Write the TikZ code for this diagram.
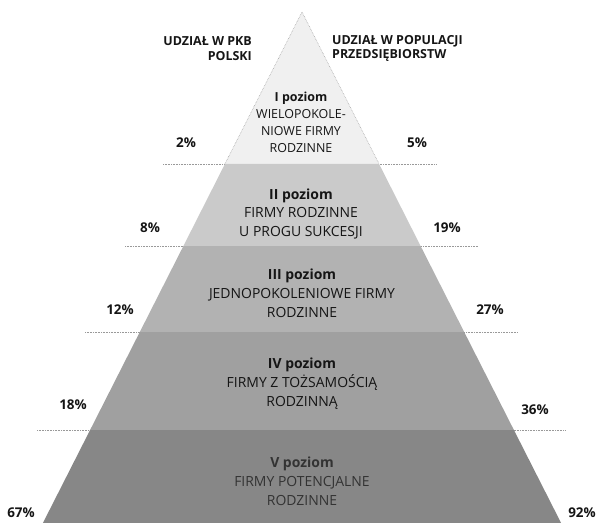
\documentclass[tikz,border=0pt]{standalone}
\usepackage{fontspec}
\setmainfont{Open Sans}
\definecolor{lvA}{HTML}{F0F0F0}
\definecolor{lvB}{HTML}{CACACA}
\definecolor{lvC}{HTML}{B2B2B2}
\definecolor{lvD}{HTML}{A0A0A0}
\definecolor{lvE}{HTML}{878787}
\definecolor{txt}{HTML}{151515}
\begin{document}
\begin{tikzpicture}[x=1bp,y=-1bp,
  head/.style={font=\bfseries\fontsize{12.5}{15}\selectfont, text=txt, inner sep=0pt},
  pct/.style={font=\bfseries\fontsize{13.5}{15}\selectfont, text=txt, inner sep=0pt},
  lvl/.style={font=\fontsize{14}{19}\selectfont, text=txt, inner sep=0pt, align=center},
  lvlA/.style={font=\fontsize{12.5}{17}\selectfont, text=txt, inner sep=0pt, align=center},
  sep/.style={draw=gray!80, densely dotted, line width=0.6pt}]
\useasboundingbox (0,0) rectangle (599,523);
% separator lines
\draw[sep] (163,164) -- (437,164);
\draw[sep] (125,246) -- (478,246);
\draw[sep] (85,332) -- (518,332);
\draw[sep] (37,430) -- (566,430);
% pyramid levels (apex (302,12), slope 0.507)
\fill[lvA] (302,12) -- (379.1,164) -- (224.9,164) -- cycle;
\draw[gray!70, densely dotted, line width=0.6pt] (224.9,164) -- (302,12) -- (379.1,164);
\fill[lvB] (224.9,164) -- (379.1,164) -- (420.6,246) -- (183.4,246) -- cycle;
\fill[lvC] (183.4,246) -- (420.6,246) -- (464.2,332) -- (139.8,332) -- cycle;
\fill[lvD] (139.8,332) -- (464.2,332) -- (513.9,430) -- (90.1,430) -- cycle;
\fill[lvE] (90.1,430) -- (513.9,430) -- (561.1,523) -- (42.9,523) -- cycle;
% headers
\node[head, anchor=east, align=right] (hl) at (252,48.5) {UDZIAŁ W PKB\\POLSKI};
\node[head, anchor=west, align=left] (hr) at (332,48.5) {UDZIAŁ W POPULACJI\\PRZEDSIĘBIORSTW};
% level texts
\node[lvlA] (l1) at (301,122.5) {\textbf{I poziom}\\WIELOPOKOLE-\\NIOWE FIRMY\\RODZINNE};
\node[lvl] (l2) at (301,214) {\textbf{II poziom}\\FIRMY RODZINNE\\U PROGU SUKCESJI};
\node[lvl] (l3) at (302,293) {\textbf{III poziom}\\JEDNOPOKOLENIOWE FIRMY\\RODZINNE};
\node[lvl] (l4) at (302,384) {\textbf{IV poziom}\\FIRMY Z TOŻSAMOŚCIĄ\\RODZINNĄ};
\node[lvl, text=black!80] (l5) at (302,481) {\textbf{V poziom}\\FIRMY POTENCJALNE\\RODZINNE};
% percentages
\node[pct] (p1l) at (186,143) {2\%};
\node[pct] (p1r) at (417,143) {5\%};
\node[pct] (p2l) at (150,228) {8\%};
\node[pct] (p2r) at (447,228) {19\%};
\node[pct] (p3l) at (120,310) {12\%};
\node[pct] (p3r) at (490,310) {27\%};
\node[pct] (p4l) at (73,405) {18\%};
\node[pct] (p4r) at (535,410) {36\%};
\node[pct] (p5l) at (21,513) {67\%};
\node[pct] (p5r) at (582,513) {92\%};
\end{tikzpicture}
\end{document}
